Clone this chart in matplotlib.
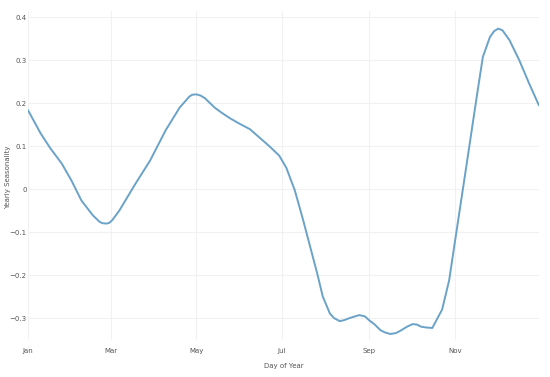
import matplotlib.pyplot as plt

# yearly seasonality component (day of year -> value)
days = [0, 9, 16, 24, 31, 38, 46, 51, 53, 56, 58, 60, 65, 76, 87, 98, 108,
        115, 117, 120, 123, 126, 133, 138, 144, 151, 158, 165, 172, 179, 184,
        190, 196, 201, 206, 210, 215, 218, 222, 225, 229, 232, 236, 240, 243,
        247, 251, 254, 258, 262, 265, 270, 274, 277, 280, 284, 288, 295, 300,
        305, 310, 315, 320, 324, 329, 332, 335, 338, 343, 350, 357, 364]
seasonality = [0.184, 0.13, 0.095, 0.06, 0.02, -0.026, -0.06, -0.076, -0.079,
               -0.08, -0.078, -0.072, -0.05, 0.01, 0.067, 0.137, 0.19, 0.216,
               0.22, 0.221, 0.218, 0.212, 0.19, 0.178, 0.165, 0.152, 0.14,
               0.12, 0.1, 0.078, 0.05, -0.002, -0.072, -0.134, -0.196, -0.25,
               -0.289, -0.3, -0.307, -0.305, -0.3, -0.297, -0.293, -0.296,
               -0.305, -0.315, -0.328, -0.333, -0.337, -0.335, -0.33, -0.32,
               -0.314, -0.315, -0.32, -0.322, -0.323, -0.28, -0.212, -0.103,
               0.005, 0.114, 0.223, 0.308, 0.354, 0.368, 0.374, 0.37, 0.347,
               0.3, 0.246, 0.195]

month_days = [0, 59, 120, 181, 243, 304]
month_labels = ['Jan', 'Mar', 'May', 'Jul', 'Sep', 'Nov']
y_ticks = [-0.3, -0.2, -0.1, 0, 0.1, 0.2, 0.3, 0.4]
y_labels = ['\u22120.3', '\u22120.2', '\u22120.1', '0', '0.1', '0.2', '0.3', '0.4']

fig = plt.figure(figsize=(5.5, 3.77), dpi=100)
ax = fig.add_axes([28 / 550, 1 - 340 / 377, 511 / 550, 329 / 377])

ax.plot(days, seasonality, color='#6aa2c8', linewidth=1.4,
        solid_joinstyle='round', solid_capstyle='round')

ax.set_xlim(0, 364)
ax.set_ylim(-0.351, 0.415)
ax.set_xticks(month_days)
ax.set_xticklabels(month_labels)
ax.set_yticks(y_ticks)
ax.set_yticklabels(y_labels)

ax.grid(True, color='#f1f1f1', linewidth=0.8)
ax.set_axisbelow(True)
for s in ax.spines.values():
    s.set_visible(False)
ax.tick_params(length=0, labelsize=5, colors='#555555')
ax.tick_params(axis='x', pad=6)
ax.tick_params(axis='y', pad=1)

ax.set_xlabel('Day of Year', fontsize=5, color='#555555', labelpad=6)
ax.set_ylabel('Yearly Seasonality', fontsize=5, color='#555555')
ax.yaxis.set_label_coords(-0.033, 0.495)

fig.savefig('out.png', dpi=100)
